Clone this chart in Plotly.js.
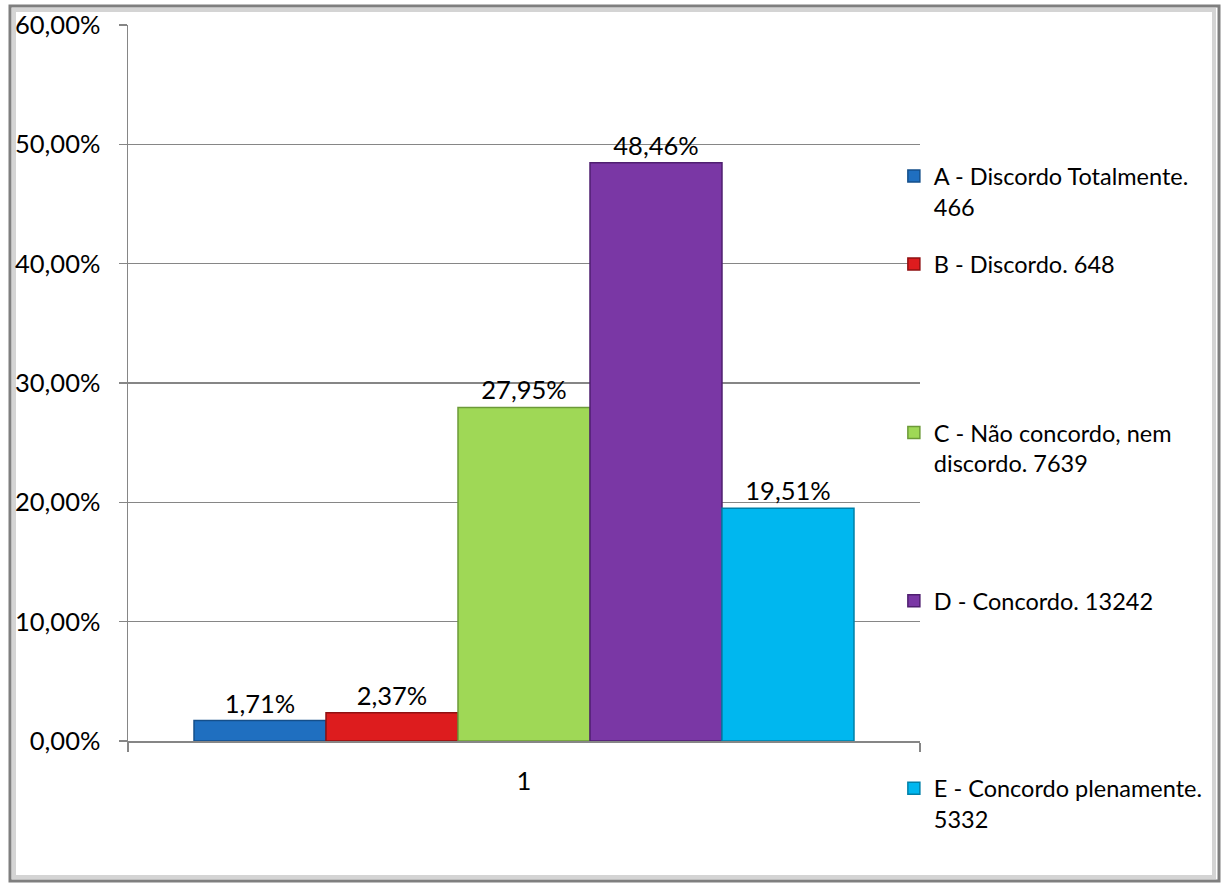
<!DOCTYPE html>
<html>
<head>
<meta charset="utf-8">
<script src="https://cdn.plot.ly/plotly-3.0.1.min.js"></script>
<style>
html,body{margin:0;padding:0;background:#fff;}
#chart{width:1222px;height:886px;}
</style>
</head>
<body>
<div id="chart"></div>
<script>
// ---- data ----
var categories = [1];
var categoryLabels = ['1'];
var seriesNames = [
  'A - Discordo Totalmente.<br>466',
  'B - Discordo. 648',
  'C - Não concordo, nem<br>discordo. 7639',
  'D - Concordo. 13242',
  'E - Concordo plenamente.<br>5332'
];
var seriesValues = [0.0171, 0.0237, 0.2795, 0.4846, 0.1951];
var yTicks = [0, 0.1, 0.2, 0.3, 0.4, 0.5, 0.6];

// ---- style ----
var colors = ['#1f6fc0', '#dd1c1e', '#9fd856', '#7a37a5', '#00b7ef'];
var lineColors = ['#154f8a', '#8f1012', '#6c9a38', '#4f1f70', '#0080a8'];
var legendY = [0.767, 0.666, 0.409, 0.1955, -0.088];
var FONT = 'Lato, "Open Sans", sans-serif';

var traces = seriesNames.map(function (name, i) {
  return {
    type: 'bar',
    name: name,
    x: categories,
    y: [seriesValues[i]],
    marker: {color: colors[i], line: {color: lineColors[i], width: 1.5}},
    texttemplate: '%{y:.2%}',
    textposition: 'outside',
    cliponaxis: false,
    textfont: {family: FONT, size: 25.5, color: '#000'},
    hoverinfo: 'skip',
    legend: i === 0 ? 'legend' : 'legend' + (i + 1)
  };
});

function leg(y) {
  return {
    x: 0.967, xanchor: 'left', y: y, yanchor: 'middle',
    bgcolor: 'rgba(0,0,0,0)', borderwidth: 0,
    font: {family: FONT, size: 23.5, color: '#000'},
    valign: 'top', itemclick: false, itemdoubleclick: false
  };
}

var layout = {
  width: 1222, height: 886,
  margin: {l: 128, r: 302, t: 25, b: 145},
  paper_bgcolor: '#ffffff',
  plot_bgcolor: '#ffffff',
  separators: ',.',
  barmode: 'group',
  bargap: 0.1667,
  bargroupgap: 0,
  showlegend: true,
  legend: leg(legendY[0]),
  legend2: leg(legendY[1]),
  legend3: leg(legendY[2]),
  legend4: leg(legendY[3]),
  legend5: leg(legendY[4]),
  xaxis: {
    type: 'linear',
    range: [0.5, 1.5],
    tickmode: 'array',
    tickvals: categories,
    ticktext: categoryLabels,
    ticks: '',
    showgrid: false,
    zeroline: false,
    showline: true,
    linecolor: '#868686',
    linewidth: 1.5,
    ticklabelstandoff: 17,
    tickfont: {family: FONT, size: 25.5, color: '#000'},
    minor: {tickmode: 'array', tickvals: [0.5, 1.5], ticks: 'outside', ticklen: 9, tickcolor: '#868686', tickwidth: 1.5, showgrid: false}
  },
  yaxis: {
    range: [0, 0.6],
    tickmode: 'array',
    tickvals: yTicks,
    tickformat: '.2%',
    ticks: 'outside',
    ticklen: 8,
    tickcolor: '#868686',
    tickwidth: 1.5,
    showgrid: true,
    gridcolor: '#868686',
    gridwidth: 1.5,
    zeroline: false,
    showline: true,
    linecolor: '#868686',
    linewidth: 1.5,
    ticklabelstandoff: 13,
    tickfont: {family: FONT, size: 25.5, color: '#000'}
  },
  shapes: [
    {type: 'rect', xref: 'paper', yref: 'paper', layer: 'below',
     x0: (10 - 128) / 792, x1: (1219 - 128) / 792,
     y0: (741 - 881) / 716, y1: (741 - 6) / 716,
     line: {color: '#7f7f7f', width: 3}, fillcolor: 'rgba(0,0,0,0)'},
    {type: 'rect', xref: 'paper', yref: 'paper', layer: 'below',
     x0: (14 - 128) / 792, x1: (1214 - 128) / 792,
     y0: (741 - 877) / 716, y1: (741 - 10) / 716,
     line: {color: '#d4d4d4', width: 4}, fillcolor: 'rgba(0,0,0,0)'}
  ]
};

Plotly.newPlot('chart', traces, layout, {displayModeBar: false, staticPlot: true});
</script>
</body>
</html>
